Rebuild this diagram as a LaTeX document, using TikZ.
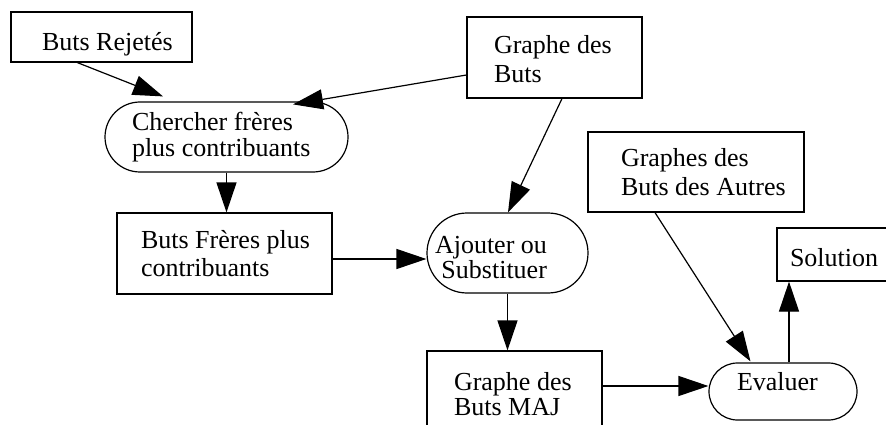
\documentclass[tikz,border=0pt]{standalone}
\usepackage{fontspec}
\setmainfont{Liberation Serif}
\usetikzlibrary{arrows.meta,shapes.misc,calc}

% Text block placed inside a node: #1 left offset from the node centre,
% #2 raise of the first baseline, #3 column alignment, #4 line spacing, #5 lines.
\newcommand\boxlines[5]{\makebox[0pt][l]{\hspace*{#1pt}\raisebox{#2pt}[0pt][0pt]{\fontsize{26}{#4}\selectfont\begin{tabular}[t]{@{}#3@{}}#5\end{tabular}}}}

\tikzset{
  box/.style={draw, line width=1.2pt, rectangle, inner sep=0pt},
  pill/.style={draw, line width=1.2pt, rounded rectangle, inner sep=0pt},
  arr/.style={line width=1.2pt, -{Triangle[length=30pt,width=20pt]}}
}

\begin{document}
\begin{tikzpicture}[x=1pt,y=-1pt]
\useasboundingbox (0,0) rectangle (886,425);
\clip (0,0) rectangle (886,425);
\fill[white] (0,0) rectangle (886,425);

% data stores (rectangles)
\node[box, minimum width=181, minimum height=50] (rej) at (101.5,37)
  {\boxlines{-59.5}{-13.7}{l}{28}{Buts Rejetés}};
\node[box, minimum width=175, minimum height=81] (gb) at (554.5,57.5)
  {\boxlines{-60.5}{3.5}{l}{28.5}{Graphe des\\Buts}};
\node[box, minimum width=216, minimum height=80] (gba) at (696,172)
  {\boxlines{-75}{5.3}{l}{28.3}{Graphes des\\Buts des Autres}};
\node[box, minimum width=215, minimum height=81] (bf) at (224.5,253.5)
  {\boxlines{-83.5}{5.2}{l}{28.4}{Buts Frères plus\\contribuants}};
\node[box, minimum width=175, minimum height=81] (maj) at (514.5,391.5)
  {\boxlines{-60.5}{1.5}{l}{25}{Graphe des\\Buts MAJ}};
\node[box, minimum width=116, minimum height=53] (sol) at (835,254.5)
  {\boxlines{-45}{-12.2}{l}{28}{Solution}};

% processes (rounded ends)
\node[pill, minimum width=243, minimum height=70] (cher) at (226.5,137)
  {\boxlines{-94.5}{6.3}{l}{24.5}{Chercher frères\\plus contribuants}};
\node[pill, minimum width=161, minimum height=80] (ajo) at (507.5,253)
  {\boxlines{-72.5}{0}{r}{25}{Ajouter ou\\Substituer}};
\node[pill, minimum width=148, minimum height=57] (eva) at (783,391.5)
  {\boxlines{-46}{0.8}{l}{28}{Evaluer}};

% flows
\draw[arr] ($(rej.south west)+(67,0)$) -- ($(cher.north west)+(23,-5)$);
\draw[arr] ($(gb.west)+(0,17.5)$) -- ($(cher.north east)+(-20,3)$);
\draw[arr] ($(gb.south)+(7.5,0)$) -- ($(ajo.north)+(0.5,0)$);
\draw[arr] (cher.south) -- (cher.south |- bf.north);
\coordinate (bfout) at ($(bf.east)+(0,5.5)$);
\draw[arr] (bfout) -- (ajo.west |- bfout);
\draw[arr] (ajo.south) -- (ajo.south |- maj.north);
\coordinate (majout) at ($(maj.east)+(0,-5.5)$);
\draw[arr] (majout) -- (eva.west |- majout);
\draw[arr] ($(gba.south)+(-41,0)$) -- ($(eva.north west)+(13,-1)$);
\coordinate (evaout) at ($(eva.north)+(6,0)$);
\draw[arr] (evaout) -- (evaout |- sol.south);
\end{tikzpicture}
\end{document}
